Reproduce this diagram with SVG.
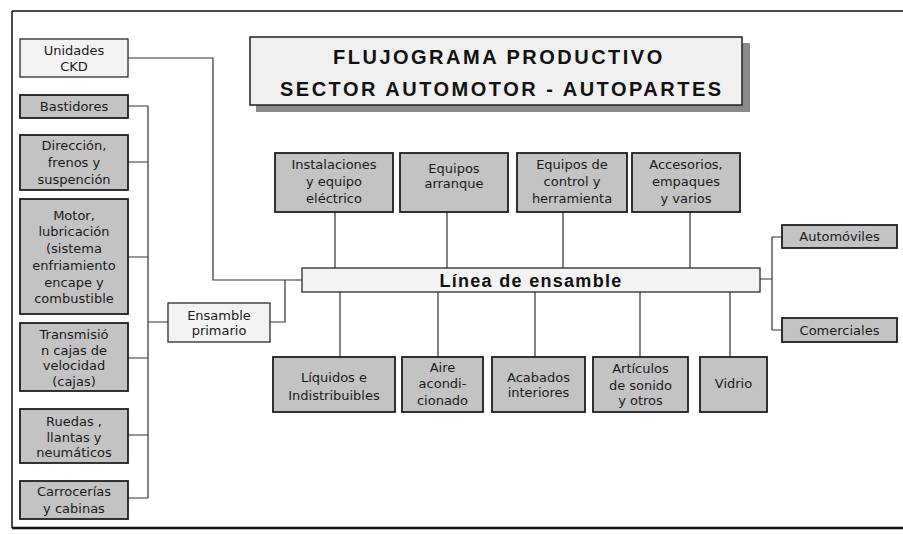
<svg xmlns="http://www.w3.org/2000/svg" width="903" height="534" viewBox="0 0 903 534">
<style>
.g{fill:#c3c3c3;stroke:#1e1e1e;stroke-width:1.8}
.l{fill:#f3f3f3;stroke:#2a2a2a;stroke-width:1.3}
.t{font-family:"DejaVu Sans",sans-serif;font-size:13px;fill:#1a1a1a;text-anchor:middle}
.c{fill:none;stroke:#333;stroke-width:1.2}
.frame{fill:none;stroke:#111}
.title{font-family:"Liberation Sans",Arial,sans-serif;font-weight:bold;font-size:20px;fill:#111;letter-spacing:2.5px}
</style>
<rect width="903" height="534" fill="#fff"/>
<g id="frame">
<path class="frame" d="M12,11 H903" stroke-width="1.5"/>
<path class="frame" d="M12,11 V528" stroke-width="1.5"/>
<path class="frame" d="M12,528 H903" stroke-width="2.5"/>
</g>
<g id="connectors">
<path class="c" d="M128,58 H213 V280 H302"/>
<path class="c" d="M270,322 H285 V280"/>
<path class="c" d="M128,106 H148 M128,162 H148 M128,257 H148 M128,358 H148 M128,435 H148 M128,498 H148 M148,106 V498 M148,322 H168"/>
<path class="c" d="M335,212 V268 M447,212 V268 M563,212 V268 M690,212 V268"/>
<path class="c" d="M340,292 V357 M438,292 V357 M535,292 V357 M640,292 V357 M730,292 V357"/>
<path class="c" d="M760,279 H772 M772,237 V330 M772,237 H782 M772,330 H782"/>
</g>
<g id="title">
<rect x="256" y="43" width="494" height="69" fill="#8a8a8a"/>
<rect x="250" y="37" width="492" height="68" fill="#f0f0f0" stroke="#222" stroke-width="1.5"/>
<text class="title" x="333" y="64">FLUJOGRAMA PRODUCTIVO</text>
<text class="title" x="280" y="96">SECTOR AUTOMOTOR - AUTOPARTES</text>
</g>
<g id="ckd"><rect class="l" x="20" y="39" width="108" height="38"/><text class="t" x="74" y="55">Unidades</text><text class="t" x="74" y="71">CKD</text></g>
<g id="bastidores"><rect class="g" x="20" y="95" width="108" height="23"/><text class="t" x="74" y="111">Bastidores</text></g>
<g id="direccion"><rect class="g" x="20" y="135" width="108" height="55"/><text class="t" x="74" y="150">Dirección,</text><text class="t" x="74" y="167">frenos y</text><text class="t" x="74" y="184">suspención</text></g>
<g id="motor"><rect class="g" x="20" y="199" width="108" height="115"/><text class="t" x="74" y="220">Motor,</text><text class="t" x="74" y="236">lubricación</text><text class="t" x="74" y="253">(sistema</text><text class="t" x="74" y="270">enfriamiento</text><text class="t" x="74" y="287">encape y</text><text class="t" x="74" y="303">combustible</text></g>
<g id="transmision"><rect class="g" x="20" y="323" width="108" height="68"/><text class="t" x="74" y="339">Transmisió</text><text class="t" x="74" y="355">n cajas de</text><text class="t" x="74" y="370">velocidad</text><text class="t" x="74" y="386">(cajas)</text></g>
<g id="ruedas"><rect class="g" x="20" y="409" width="108" height="54"/><text class="t" x="74" y="426">Ruedas ,</text><text class="t" x="74" y="442">llantas y</text><text class="t" x="74" y="457">neumáticos</text></g>
<g id="carrocerias"><rect class="g" x="20" y="481" width="108" height="38"/><text class="t" x="74" y="496">Carrocerías</text><text class="t" x="74" y="513">y cabinas</text></g>
<g id="ensamble-primario"><rect class="l" x="168" y="303" width="102" height="39"/><text class="t" x="219" y="320">Ensamble</text><text class="t" x="219" y="335">primario</text></g>
<g id="instalaciones"><rect class="g" x="275" y="153" width="118" height="59"/><text class="t" x="334" y="169">Instalaciones</text><text class="t" x="334" y="186">y equipo</text><text class="t" x="334" y="203">eléctrico</text></g>
<g id="arranque"><rect class="g" x="400" y="153" width="108" height="59"/><text class="t" x="454" y="173">Equipos</text><text class="t" x="454" y="188">arranque</text></g>
<g id="control"><rect class="g" x="517" y="153" width="110" height="59"/><text class="t" x="572" y="169">Equipos de</text><text class="t" x="572" y="186">control y</text><text class="t" x="572" y="203">herramienta</text></g>
<g id="accesorios"><rect class="g" x="632" y="153" width="108" height="59"/><text class="t" x="686" y="169">Accesorios,</text><text class="t" x="686" y="186">empaques</text><text class="t" x="686" y="203">y varios</text></g>
<g id="linea"><rect class="l" x="302" y="268" width="458" height="24"/><text x="531" y="286.5" font-family="Liberation Sans, Arial, sans-serif" font-weight="bold" font-size="18" letter-spacing="1.3" fill="#111" text-anchor="middle">Línea de ensamble</text></g>
<g id="liquidos"><rect class="g" x="273" y="357" width="122" height="55"/><text class="t" x="334" y="382">Líquidos e</text><text class="t" x="334" y="400">Indistribuibles</text></g>
<g id="aire"><rect class="g" x="402" y="357" width="81" height="55"/><text class="t" x="442.5" y="372">Aire</text><text class="t" x="442.5" y="388">acondi-</text><text class="t" x="442.5" y="405">cionado</text></g>
<g id="acabados"><rect class="g" x="492" y="357" width="93" height="55"/><text class="t" x="538.5" y="382">Acabados</text><text class="t" x="538.5" y="397">interiores</text></g>
<g id="articulos"><rect class="g" x="593" y="357" width="95" height="55"/><text class="t" x="640.5" y="373">Artículos</text><text class="t" x="640.5" y="390">de sonido</text><text class="t" x="640.5" y="405">y otros</text></g>
<g id="vidrio"><rect class="g" x="700" y="357" width="67" height="55"/><text class="t" x="733.5" y="388">Vidrio</text></g>
<g id="automoviles"><rect class="g" x="782" y="225" width="115" height="23"/><text class="t" x="839.5" y="241">Automóviles</text></g>
<g id="comerciales"><rect class="g" x="782" y="318" width="115" height="24"/><text class="t" x="839.5" y="334.5">Comerciales</text></g>
</svg>
